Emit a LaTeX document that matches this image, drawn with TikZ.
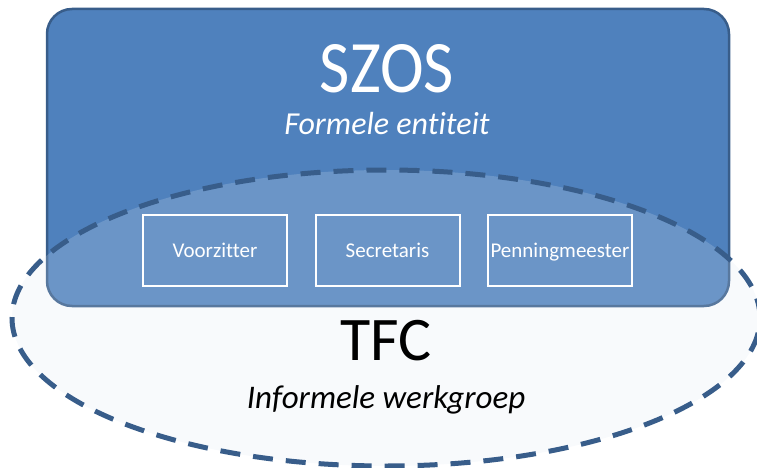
\documentclass[tikz,border=0pt]{standalone}
\usepackage{fontspec}
\setmainfont{Carlito}[Ligatures=NoCommon]
\definecolor{szosblue}{RGB}{79,129,189}
\definecolor{szosedge}{RGB}{56,93,138}
\definecolor{tfcfill}{RGB}{220,230,242}
\tikzset{
  rolebox/.style={draw=white, line width=2pt, minimum width=144pt, minimum height=71pt,
    inner sep=0pt, text=white, text height=13.5pt, text depth=0pt,
    font=\fontsize{21}{24}\selectfont},
  bigtitle/.style={anchor=base, inner sep=0pt},
}
\begin{document}
\begin{tikzpicture}[x=1pt,y=-1pt]
  \useasboundingbox (0,0) rectangle (757,468);
  % formele entiteit
  \filldraw[fill=szosblue, draw=szosedge, line width=2.5pt, rounded corners=25pt] (47,9) rectangle (729,306);
  % informele werkgroep
  \draw[fill=tfcfill, fill opacity=0.2, draw=szosedge, line width=5pt, dash pattern=on 20pt off 13pt]
    (386,318) ellipse [x radius=374pt, y radius=148pt];

  \node[rolebox] (voorzitter) at (215,250.5) {Voorzitter};
  \node[rolebox] (secretaris) at (387.5,250.5) {Secretaris};
  \node[rolebox] (penning) at (560,250.5) {Penningmeester};

  \node[bigtitle, text=white, font=\fontsize{74}{80}\selectfont, xscale=0.89, transform shape] (szos) at (387,93) {SZOS};
  \node[bigtitle, text=white, font=\itshape\fontsize{32}{36}\selectfont] (formeel) at (387,135) {Formele entiteit};
  \node[bigtitle, font=\fontsize{62}{70}\selectfont] (tfc) at (386,360) {TFC};
  \node[bigtitle, font=\itshape\fontsize{33}{38}\selectfont] (informeel) at (386,408) {Informele werkgroep};
\end{tikzpicture}
\end{document}
